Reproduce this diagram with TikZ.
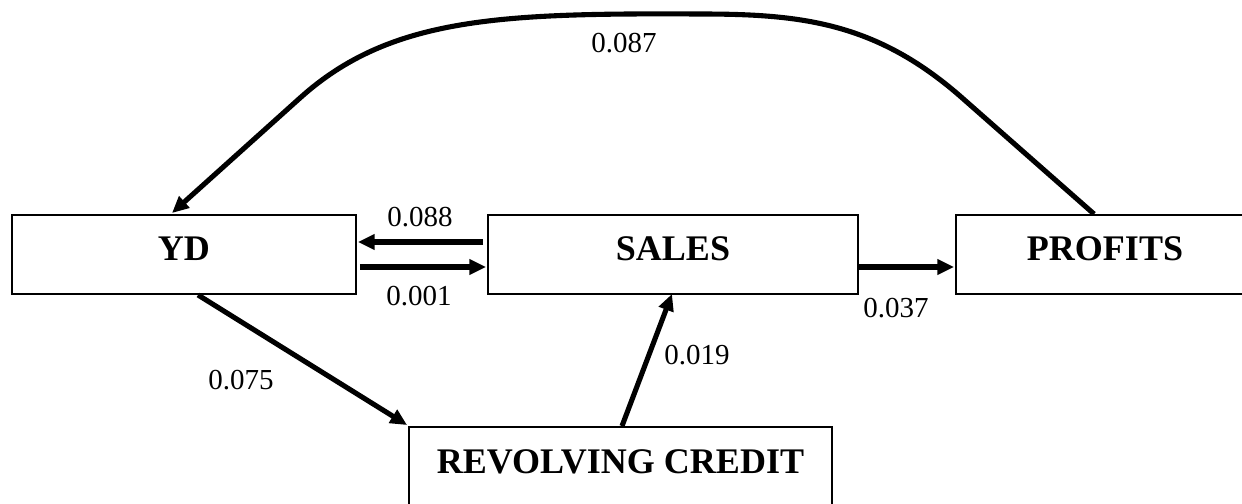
\documentclass[tikz,border=0pt]{standalone}
\usepackage{fontspec}
\setmainfont{Liberation Serif}
\usetikzlibrary{arrows.meta,calc}

\begin{document}
\begin{tikzpicture}[x=0.02cm, y=-0.02cm,
    box/.style={draw, line width=1.1pt, minimum height=1.58cm, inner sep=0pt,
      text height=0.48cm, text depth=0.24cm, font=\fontsize{20.5}{24}\selectfont\bfseries},
    lbl/.style={font=\fontsize{16.5}{19}\selectfont},
    conn/.style={line width=2.9pt, -{Triangle[length=9.5pt,width=8.5pt]}}]
  \useasboundingbox (0,0) rectangle (1242,504);
  \clip (0,0) rectangle (1242,504);

  % Boxes
  \node[box, minimum width=6.88cm] (yd) at (184,254.5) {YD};
  \node[box, minimum width=7.40cm] (sales) at (673,254.5) {SALES};
  \node[box, minimum width=5.96cm] (profits) at (1105,254.5) {PROFITS};
  \node[box, minimum width=8.46cm, minimum height=1.60cm] (credit) at (620.5,467) {REVOLVING CREDIT};

  % Between YD and SALES
  \draw[conn] ($(sales.west)+(-4,-12.5)$) -- ($(yd.east)+(1,-12.5)$);
  \node[lbl] (l1) at (420,217) {0.088};
  \draw[conn] ($(yd.east)+(3,12.5)$) -- ($(sales.west)+(-1,12.5)$);
  \node[lbl] (l2) at (419,296) {0.001};

  % SALES to PROFITS
  \draw[conn] ($(sales.east)+(0,12.5)$) -- ($(profits.west)+(-1,12.5)$);
  \node[lbl] (l3) at (896,308) {0.037};

  % YD to REVOLVING CREDIT
  \draw[conn] ($(yd.south)+(14,0)$) -- ($(credit.north west)+(-1,-1)$);
  \node[lbl] (l4) at (241,380) {0.075};

  % REVOLVING CREDIT to SALES
  \draw[conn] ($(credit.north)+(1.5,0)$) -- ($(sales.south)+(-1,-1)$);
  \node[lbl] (l5) at (697,355) {0.019};

  % PROFITS back to YD
  \draw[conn] ($(profits.north west)+(139,0)$) -- (960,96)
    .. controls (875,22) and (800,14) .. (700,14)
    .. controls (500,13) and (390,17) .. (300,98)
    -- ($(yd.north)+(-12,-1)$);
  \node[lbl] (l6) at (624,43) {0.087};
\end{tikzpicture}
\end{document}
